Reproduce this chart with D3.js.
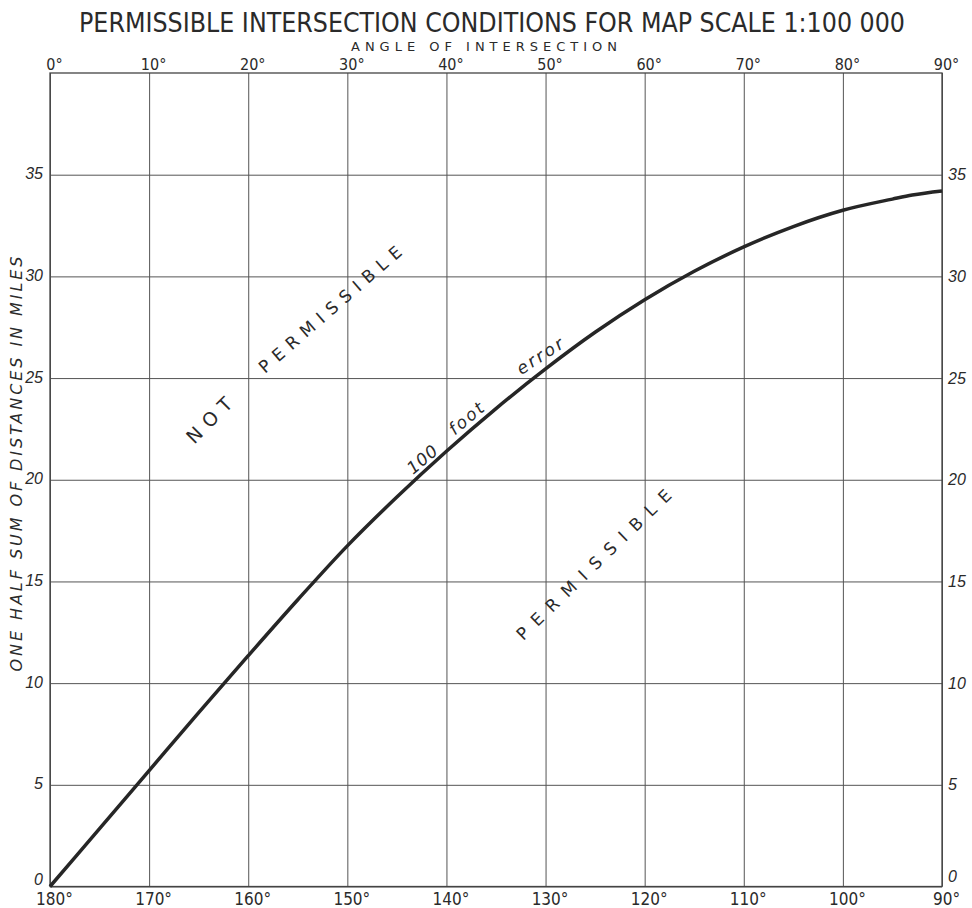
<!DOCTYPE html>
<html>
<head>
<meta charset="utf-8">
<script src="https://cdn.jsdelivr.net/npm/d3@7"></script>
<style>
  body { margin: 0; background: #fff; }
  .tick text { fill: #2a2a2a; }
  .grid line { stroke: #555; stroke-width: 1; }
  .grid .domain { display: none; }
</style>
</head>
<body>
<div id="chart"></div>
<script>
// angle of intersection (top scale) and one half sum of distances (miles)
var angles = [0, 5, 10, 15, 20, 25, 30, 35, 40, 45, 50, 55, 60, 65, 70, 75, 80, 85, 87, 90];
var halfSumMiles = [0, 2.85, 5.7, 8.55, 11.35, 14.1, 16.75, 19.15, 21.4, 23.5, 25.45, 27.25, 28.85, 30.25, 31.45, 32.45, 33.25, 33.8, 34.0, 34.2];

var topTicks = [0, 10, 20, 30, 40, 50, 60, 70, 80, 90];
var bottomTicks = [180, 170, 160, 150, 140, 130, 120, 110, 100, 90];
var mileTicks = [0, 5, 10, 15, 20, 25, 30, 35];

var svgWidth = 972;
var svgHeight = 908;
var margin = { top: 73, right: 30, bottom: 21.5, left: 50 };
var width = svgWidth - margin.left - margin.right;
var height = svgHeight - margin.top - margin.bottom;

var svg = d3.select("#chart")
  .append("svg")
  .attr("width", svgWidth)
  .attr("height", svgHeight)
  .style("font-family", "'DejaVu Sans', sans-serif");

var chartGroup = svg.append("g")
  .attr("transform", `translate(${margin.left}, ${margin.top})`);

// Scales //
var xScale = d3.scaleLinear().domain([0, 90]).range([0, width]);
var xBottom = d3.scaleLinear().domain([180, 90]).range([0, width]);
var yScale = d3.scaleLinear().domain([0, 40]).range([height, 0]);

// Grid + top axis //
var topAxis = d3.axisTop(xScale)
  .tickValues(topTicks)
  .tickSize(-height)
  .tickPadding(3)
  .tickFormat(d => d + "°");

chartGroup.append("g")
  .attr("class", "grid")
  .call(topAxis)
  .selectAll("text")
  .attr("dx", 4)
  .attr("font-size", 16)
  .attr("font-family", "'DejaVu Sans Condensed', 'DejaVu Sans', sans-serif");

// Bottom axis //
var bottomAxis = d3.axisBottom(xBottom)
  .tickValues(bottomTicks)
  .tickSize(0)
  .tickPadding(6)
  .tickFormat(d => d + "°");

chartGroup.append("g")
  .attr("class", "grid")
  .attr("transform", `translate(0, ${height})`)
  .call(bottomAxis)
  .selectAll("text")
  .attr("dx", 4)
  .attr("font-size", 17)
  .attr("font-family", "'DejaVu Sans Condensed', 'DejaVu Sans', sans-serif");

// Left axis with horizontal grid //
var leftAxis = d3.axisLeft(yScale)
  .tickValues(mileTicks)
  .tickSize(-width)
  .tickPadding(7)
  .tickFormat(d3.format("d"));

chartGroup.append("g")
  .attr("class", "grid")
  .call(leftAxis)
  .selectAll("text")
  .attr("dy", d => d === 0 ? "-0.12em" : "0.25em")
  .attr("font-size", 16)
  .attr("font-style", "italic");

// Right axis //
var rightAxis = d3.axisRight(yScale)
  .tickValues(mileTicks)
  .tickSize(0)
  .tickPadding(6)
  .tickFormat(d3.format("d"));

chartGroup.append("g")
  .attr("class", "grid")
  .attr("transform", `translate(${width}, 0)`)
  .call(rightAxis)
  .selectAll("text")
  .attr("dy", d => d === 0 ? "-0.3em" : "0.32em")
  .attr("font-size", 16)
  .attr("font-style", "italic");

// Frame //
chartGroup.append("rect")
  .attr("width", width)
  .attr("height", height)
  .attr("fill", "none")
  .attr("stroke", "#444")
  .attr("stroke-width", 1.3);

// Curve //
var line = d3.line()
  .x((d, i) => xScale(angles[i]))
  .y(d => yScale(d))
  .curve(d3.curveMonotoneX);

chartGroup.append("path")
  .datum(halfSumMiles)
  .attr("d", line)
  .attr("fill", "none")
  .attr("stroke", "#262626")
  .attr("stroke-width", 3.5);

// Labels in plot //
function rotText(txt, x, y, angle, size, len, italic) {
  chartGroup.append("text")
    .attr("transform", `translate(${x - margin.left}, ${y - margin.top}) rotate(${angle})`)
    .attr("text-anchor", "middle")
    .attr("font-size", size)
    .attr("font-style", italic ? "italic" : "normal")
    .attr("textLength", len)
    .attr("fill", "#2a2a2a")
    .text(txt);
}
rotText("NOT", 214, 425, -45, 19, 56, false);
rotText("PERMISSIBLE", 334, 314, -41, 17, 183, false);
rotText("PERMISSIBLE", 598, 569, -44, 17, 208, false);

rotText("100", 426, 464, -40, 17, 34, true);
rotText("foot", 470, 423, -40, 17, 40, true);
rotText("error", 543, 361, -33, 17, 52, true);

// Titles //
svg.append("text")
  .attr("x", 492)
  .attr("y", 32)
  .attr("text-anchor", "middle")
  .attr("font-size", 27)
  .attr("font-family", "'DejaVu Sans Condensed', 'DejaVu Sans', sans-serif")
  .attr("textLength", 826)
  .attr("lengthAdjust", "spacingAndGlyphs")
  .attr("fill", "#2a2a2a")
  .text("PERMISSIBLE INTERSECTION CONDITIONS FOR MAP SCALE 1:100 000");

svg.append("text")
  .attr("x", 484)
  .attr("y", 51)
  .attr("text-anchor", "middle")
  .attr("font-size", 13)
  .attr("textLength", 266)
  .attr("fill", "#2a2a2a")
  .text("ANGLE OF INTERSECTION");

svg.append("text")
  .attr("transform", "translate(22, 464) rotate(-90)")
  .attr("text-anchor", "middle")
  .attr("font-size", 16)
  .attr("font-style", "italic")
  .attr("textLength", 415)
  .attr("fill", "#2a2a2a")
  .text("ONE HALF SUM OF DISTANCES IN MILES");
</script>
</body>
</html>
